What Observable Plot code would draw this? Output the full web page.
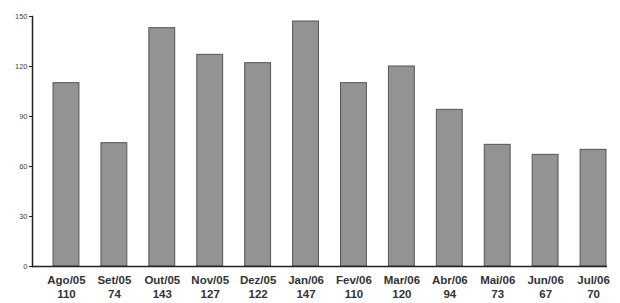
<!DOCTYPE html>
<html>
<head>
<meta charset="utf-8">
<script src="https://cdn.jsdelivr.net/npm/d3@7"></script>
<script src="https://cdn.jsdelivr.net/npm/@observablehq/plot@0.6"></script>
<style>
  html, body { margin: 0; padding: 0; background: #fff; }
</style>
</head>
<body>
<div id="chart"></div>
<script>
const months = ["Ago/05","Set/05","Out/05","Nov/05","Dez/05","Jan/06","Fev/06","Mar/06","Abr/06","Mai/06","Jun/06","Jul/06"];
const values = [110, 74, 143, 127, 122, 147, 110, 120, 94, 73, 67, 70];
const yTicks = [0, 30, 60, 90, 120, 150];

const data = months.map((m, i) => ({month: m, value: values[i]}));

const W = 620, H = 303, ML = 32, MR = 13, MT = 16, MB = 37;

const chart = Plot.plot({
  width: W,
  height: H,
  marginLeft: ML,
  marginRight: MR,
  marginTop: MT,
  marginBottom: MB,
  style: {fontFamily: "Liberation Sans, Arial, sans-serif", background: "#fff", color: "#222"},
  x: {domain: months, range: [ML + 10, W - MR + 10], paddingInner: 0.46, paddingOuter: 0.23, round: false, axis: null},
  y: {domain: [0, 150], axis: null},
  marks: [
    Plot.barY(data, {x: "month", y: "value", fill: "#939393", stroke: "#555", strokeWidth: 1}),
    Plot.axisY(yTicks, {tickSize: 3, tickPadding: 2, fontSize: 7.5, stroke: "#222", color: "#444", tickFormat: d => d, label: null}),
    Plot.frame({anchor: "left", stroke: "#222", strokeWidth: 1.5}),
    Plot.ruleY([0], {stroke: "#222", strokeWidth: 1.5}),
    Plot.text(data, {x: "month", frameAnchor: "bottom", dy: 17, text: "month", fontSize: 11.5, fontWeight: "bold", fill: "#333"}),
    Plot.text(data, {x: "month", frameAnchor: "bottom", dy: 31, text: d => String(d.value), fontSize: 11.5, fontWeight: "bold", fill: "#333"})
  ]
});
document.getElementById("chart").appendChild(chart);
</script>
</body>
</html>
